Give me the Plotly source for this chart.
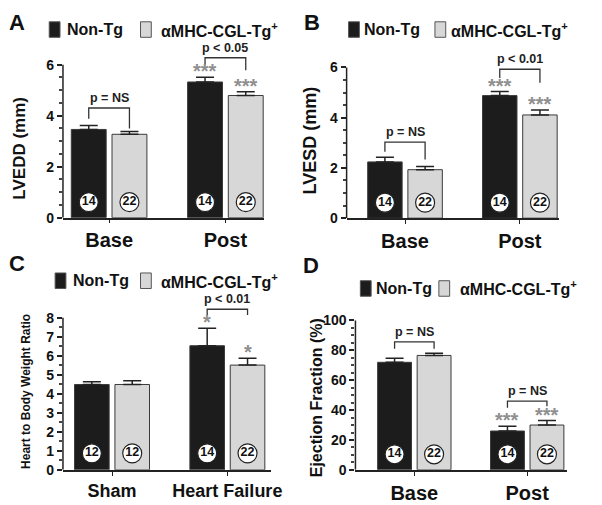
import plotly.graph_objects as go

# page body has an 8px margin, so the figure is drawn 8px in from the top-left
OFF = 8
W, H = 602 - OFF, 505 - OFF
FONT = "Liberation Sans"
BLACK = "#1c1c1c"
GRAY = "#d7d7d7"
STAR = "#8f8f8f"
BAR_W = 0.30
GAP = 0.05

# A - LVEDD
a_cats = ["Base", "Post"]
a_nontg = [3.46, 5.32]
a_nontg_err = [0.15, 0.19]
a_tg = [3.27, 4.79]
a_tg_err = [0.11, 0.15]
a_n_nontg = [14, 14]
a_n_tg = [22, 22]
a_sig_nontg = ["", "***"]
a_sig_tg = ["", "***"]
a_p_text = ["p = NS", "p < 0.05"]
a_p_top = [4.3, 6.27]
a_p_left = [3.88, 5.97]
a_p_right = [3.5, 5.78]

# B - LVESD
b_cats = ["Base", "Post"]
b_nontg = [2.24, 4.88]
b_nontg_err = [0.19, 0.16]
b_tg = [1.93, 4.11]
b_tg_err = [0.13, 0.20]
b_n_nontg = [14, 14]
b_n_tg = [22, 22]
b_sig_nontg = ["", "***"]
b_sig_tg = ["", "***"]
b_p_text = ["p = NS", "p < 0.01"]
b_p_top = [3.03, 5.93]
b_p_left = [2.64, 5.58]
b_p_right = [2.34, 5.39]

# C - heart to body weight
c_cats = ["Sham", "Heart Failure"]
c_nontg = [4.49, 6.53]
c_nontg_err = [0.15, 0.92]
c_tg = [4.49, 5.51]
c_tg_err = [0.2, 0.36]
c_n_nontg = [12, 14]
c_n_tg = [12, 22]
c_sig_nontg = ["", "*"]
c_sig_tg = ["", "*"]
c_p_text = [None, "p < 0.01"]
c_p_top = [None, 8.45]
c_p_left = [None, 8.15]
c_p_right = [None, 8.15]

# D - ejection fraction
d_cats = ["Base", "Post"]
d_nontg = [72.0, 26.0]
d_nontg_err = [2.7, 3.2]
d_tg = [76.6, 30.0]
d_tg_err = [1.5, 3.0]
d_n_nontg = [14, 14]
d_n_tg = [22, 22]
d_sig_nontg = ["", "***"]
d_sig_tg = ["", "***"]
d_p_text = ["p = NS", "p = NS"]
d_p_top = [85.7, 46.0]
d_p_left = [81.0, 41.5]
d_p_right = [81.0, 42.5]


def px(x, y):
    return (x - OFF) / W, 1 - (y - OFF) / H


panels = [
    dict(letter="A", letter_xy=(7, 16), ytitle="LVEDD (mm)", ytitle_xy=(20, 145), ytitle_size=17,
         cats=a_cats, nontg=a_nontg, nontg_err=a_nontg_err, tg=a_tg, tg_err=a_tg_err,
         n_nontg=a_n_nontg, n_tg=a_n_tg, sig_nontg=a_sig_nontg, sig_tg=a_sig_tg,
         p_text=a_p_text, p_top=a_p_top, p_left=a_p_left, p_right=a_p_right,
         box=(64, 269, 111, 229.5, 217, 26.3), ymax=7, yline=6, dtick=2, minor=0.5,
         legend=(50, 66, 143, 162, 23), xlab_size=20),
    dict(letter="B", letter_xy=(308, 16), ytitle="LVESD (mm)", ytitle_xy=(316, 137), ytitle_size=18,
         cats=b_cats, nontg=b_nontg, nontg_err=b_nontg_err, tg=b_tg, tg_err=b_tg_err,
         n_nontg=b_n_nontg, n_tg=b_n_tg, sig_nontg=b_sig_nontg, sig_tg=b_sig_tg,
         p_text=b_p_text, p_top=b_p_top, p_left=b_p_left, p_right=b_p_right,
         box=(353, 569, 412.5, 529.5, 217.5, 25.9), ymax=7, yline=6, dtick=2, minor=0.5,
         legend=(355, 369, 443, 457, 23), xlab_size=20),
    dict(letter="C", letter_xy=(7, 264), ytitle="Heart to Body Weight Ratio", ytitle_xy=(27, 396), ytitle_size=12,
         cats=c_cats, nontg=c_nontg, nontg_err=c_nontg_err, tg=c_tg, tg_err=c_tg_err,
         n_nontg=c_n_nontg, n_tg=c_n_tg, sig_nontg=c_sig_nontg, sig_tg=c_sig_tg,
         p_text=c_p_text, p_top=c_p_top, p_left=c_p_left, p_right=c_p_right,
         box=(64, 276, 114, 231.5, 477, 19.6), ymax=9.3, yline=8, dtick=1, minor=0.5,
         legend=(56, 72, 143, 162, 282), xlab_size=18),
    dict(letter="D", letter_xy=(307, 266), ytitle="Ejection Fraction (%)", ytitle_xy=(322, 403), ytitle_size=16,
         cats=d_cats, nontg=d_nontg, nontg_err=d_nontg_err, tg=d_tg, tg_err=d_tg_err,
         n_nontg=d_n_nontg, n_tg=d_n_tg, sig_nontg=d_sig_nontg, sig_tg=d_sig_tg,
         p_text=d_p_text, p_top=d_p_top, p_left=d_p_left, p_right=d_p_right,
         box=(362, 578, 422, 537, 477, 1.54), ymax=101, yline=100, dtick=20, minor=5,
         legend=(367, 381, 447, 466, 290), xlab_size=20),
]

fig = go.Figure()
shapes = []
annotations = []
layout_axes = {}

for k, p in enumerate(panels, start=1):
    sfx = "" if k == 1 else str(k)
    xr, yr = "x" + sfx, "y" + sfx
    left, right, c0, c1, y0, ppu = p["box"]
    sp = c1 - c0
    ytop_px = y0 - p["ymax"] * ppu
    dx0, dy0 = px(left, y0)
    dx1, dy1 = px(right, ytop_px)

    layout_axes["xaxis" + sfx] = dict(
        domain=[dx0, dx1], anchor=yr, range=[(left - c0) / sp, (right - c0) / sp],
        tickvals=[0, 1], ticktext=p["cats"], showline=True, linecolor="#222", linewidth=1.5,
        ticks="outside", ticklen=4, tickcolor="#222", showgrid=False, zeroline=False, fixedrange=True,
        tickfont=dict(family=FONT, size=p["xlab_size"], color="#111", weight="bold"))
    layout_axes["yaxis" + sfx] = dict(
        domain=[dy0, dy1], anchor=xr, range=[0, p["ymax"]],
        tickmode="array", tickvals=list(range(0, int(p["yline"]) + 1, p["dtick"])),
        showline=False, ticks="outside", ticklen=5, tickcolor="#222", tickwidth=1.5,
        minor=dict(tickvals=[i * p["minor"] for i in range(int(p["yline"] / p["minor"]) + 1)],
                   ticks="outside", ticklen=3, tickcolor="#444"),
        showgrid=False, zeroline=False, fixedrange=True,
        tickfont=dict(family=FONT, size=14, color="#111", weight="bold"))

    # y axis line only up to the top tick
    shapes.append(dict(type="line", xref=xr + " domain", yref=yr, x0=0, x1=0, y0=0, y1=p["yline"],
                       line=dict(color="#222", width=1.5)))

    off_l = -BAR_W - GAP / 2
    off_r = GAP / 2
    for vals, errs, color, off in [(p["nontg"], p["nontg_err"], BLACK, off_l),
                                   (p["tg"], p["tg_err"], GRAY, off_r)]:
        fig.add_trace(go.Bar(
            x=[0, 1], y=vals, width=BAR_W, offset=off, xaxis=xr, yaxis=yr, showlegend=False,
            marker=dict(color=color, line=dict(color="#3a3a3a", width=1)),
            error_y=dict(type="data", symmetric=False, array=errs, arrayminus=[0] * len(errs),
                         color="#222", thickness=1.5, width=9)))

    xc_l = [i + off_l + BAR_W / 2 for i in (0, 1)]
    xc_r = [i + off_r + BAR_W / 2 for i in (0, 1)]

    # n circles
    circ_y = (17 if k == 3 else 16) / ppu
    fig.add_trace(go.Scatter(
        x=xc_l + xc_r, y=[circ_y] * 4, mode="markers+text", xaxis=xr, yaxis=yr, showlegend=False,
        text=[str(n) for n in p["n_nontg"] + p["n_tg"]], textposition="middle center",
        textfont=dict(family=FONT, size=12.5, color="#111", weight="bold"),
        marker=dict(size=19, color="white", line=dict(color="#222", width=1.2))))

    # significance stars
    for xs, vals, errs, sigs in [(xc_l, p["nontg"], p["nontg_err"], p["sig_nontg"]),
                                 (xc_r, p["tg"], p["tg_err"], p["sig_tg"])]:
        for x, v, e, s in zip(xs, vals, errs, sigs):
            if s:
                annotations.append(dict(x=x, y=v + e, xref=xr, yref=yr, text=s, showarrow=False,
                                        yanchor="bottom", yshift=-7,
                                        font=dict(family=FONT, size=20, color=STAR, weight="bold")))

    # p-value brackets
    for i in (0, 1):
        if p["p_text"][i] is None:
            continue
        xl, xrr = xc_l[i], xc_r[i]
        top = p["p_top"][i]
        shapes.append(dict(type="path", xref=xr, yref=yr,
                           path=f"M {xl},{p['p_left'][i]} L {xl},{top} L {xrr},{top} L {xrr},{p['p_right'][i]}",
                           line=dict(color="#333", width=1.3)))
        annotations.append(dict(x=(xl + xrr) / 2, y=top, xref=xr, yref=yr, text=p["p_text"][i],
                                showarrow=False, yanchor="bottom", yshift=1,
                                font=dict(family=FONT, size=12.5, color="#222", weight="bold")))

    # panel letter
    lx, ly = px(*p["letter_xy"])
    annotations.append(dict(x=lx, y=ly, xref="paper", yref="paper", text=p["letter"], showarrow=False,
                            xanchor="left", yanchor="middle",
                            font=dict(family=FONT, size=22, color="#111", weight="bold")))

    # y title
    tx, ty = px(*p["ytitle_xy"])
    annotations.append(dict(x=tx, y=ty, xref="paper", yref="paper", text=p["ytitle"], showarrow=False,
                            textangle=-90, xanchor="center", yanchor="middle",
                            font=dict(family=FONT, size=p["ytitle_size"], color="#111", weight="bold")))

    # legend
    bx, btx, gx, gtx, cy = p["legend"]
    for x0, tx0, color, label in [(bx, btx, BLACK, "Non-Tg"),
                                  (gx, gtx, GRAY, "\u03b1MHC-CGL-Tg<sup>+</sup>")]:
        a0, b0 = px(x0, cy - 8)
        a1, b1 = px(x0 + 11, cy + 8)
        shapes.append(dict(type="rect", xref="paper", yref="paper", x0=a0, x1=a1, y0=b1, y1=b0,
                           fillcolor=color, line=dict(color="#555", width=1)))
        tx, ty = px(tx0, cy)
        annotations.append(dict(x=tx, y=ty, xref="paper", yref="paper", text=label, showarrow=False,
                                xanchor="left", yanchor="middle",
                                font=dict(family=FONT, size=16, color="#111", weight="bold")))

fig.update_layout(
    width=W, height=H, margin=dict(l=0, r=0, t=0, b=0),
    paper_bgcolor="white", plot_bgcolor="white", showlegend=False,
    shapes=shapes, annotations=annotations, **layout_axes)

fig.write_html("out.html")
